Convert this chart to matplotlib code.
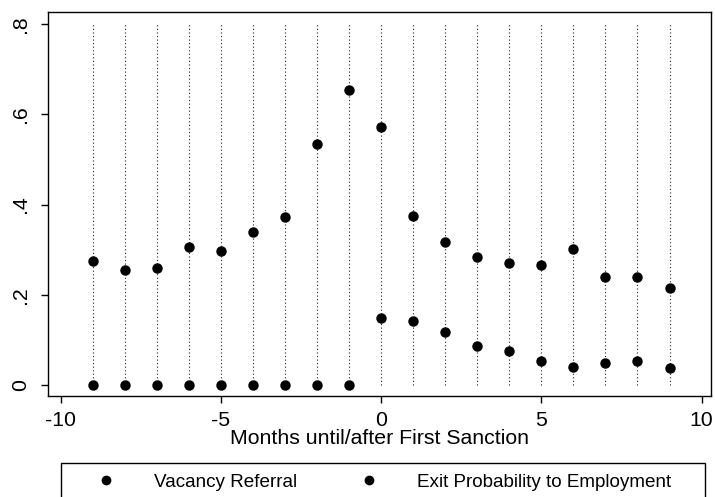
import matplotlib
matplotlib.use("Agg")
import matplotlib.pyplot as plt
from matplotlib.lines import Line2D
from matplotlib.patches import Rectangle

plt.rcParams['font.family'] = ['Liberation Sans', 'DejaVu Sans']
plt.rcParams['axes.unicode_minus'] = False

months = list(range(-9, 10))
vacancy_referral = [0.275, 0.255, 0.260, 0.307, 0.298, 0.339, 0.372, 0.534, 0.655,
                    0.571, 0.374, 0.318, 0.283, 0.270, 0.267, 0.302, 0.239, 0.239, 0.215]
exit_employment = [0, 0, 0, 0, 0, 0, 0, 0, 0,
                   0.148, 0.142, 0.118, 0.086, 0.075, 0.053, 0.040, 0.048, 0.053, 0.037]
series_labels = ["Vacancy Referral", "Exit Probability to Employment"]
y_ticks = [0, 0.2, 0.4, 0.6, 0.8]
y_ticklabels = ["0", ".2", ".4", ".6", ".8"]
x_ticks = [-10, -5, 0, 5, 10]

W, H = 715, 497
fs = 15.3      # axis text
fs_leg = 13.6  # legend text

fig = plt.figure(figsize=(W / 100, H / 100), dpi=100)
ax = fig.add_axes([47.7 / W, 1 - 395.7 / H, (711.5 - 47.7) / W, (395.7 - 12) / H])

# dotted guide lines at every month
ax.vlines(months, 0, 0.8, colors="#222222", linestyles=(0, (1, 2.2)), linewidth=0.8)

ax.plot(months, vacancy_referral, "o", color="black", ms=6.5, ls="none")
ax.plot(months, exit_employment, "o", color="black", ms=6.5, ls="none")

ax.set_xlim(-10.41, 10.31)
ax.set_ylim(-0.0237, 0.827)
ax.set_yticks(y_ticks)
ax.set_yticklabels(y_ticklabels, rotation=90, va="center")
ax.set_xticks(x_ticks)
ax.tick_params(direction="out", length=5, width=1, labelsize=fs)
ax.tick_params(axis="x", pad=6)
ax.tick_params(axis="y", pad=8)
for s in ax.spines.values():
    s.set_linewidth(1)
ax.set_xlabel("Months until/after First Sanction", fontsize=fs)
ax.xaxis.set_label_coords(0.5, -(429 - 395.7) / (395.7 - 12))

# legend: boxed row under the axis title
fig.patches.append(Rectangle((61.5 / W, -0.05), (705 - 61.5) / W, 0.05 + 1 - 463 / H,
                             transform=fig.transFigure, fill=False,
                             edgecolor="black", linewidth=1))
handles = [Line2D([], [], marker="o", color="black", ls="none", ms=6) for _ in series_labels]
fig.legend(handles, series_labels, loc="upper left", ncol=2,
           bbox_to_anchor=(96.5 / W, 1 - 473.5 / H), fontsize=fs_leg,
           frameon=False, borderpad=0, borderaxespad=0,
           handlelength=1.0, handletextpad=2.04, columnspacing=3.3)

fig.savefig("out.png", dpi=100)
